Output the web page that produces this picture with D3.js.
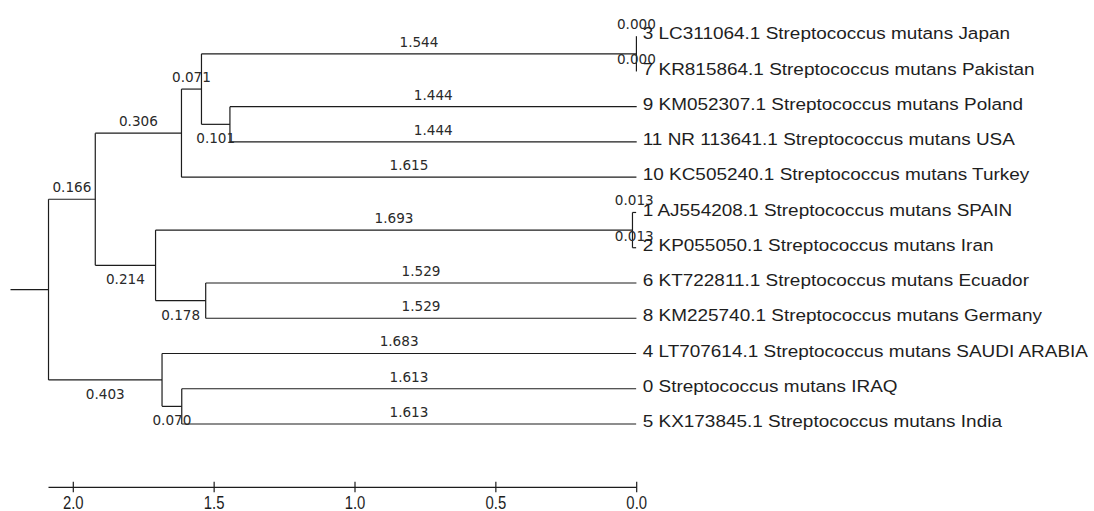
<!DOCTYPE html>
<html><head><meta charset="utf-8">
<script src="https://cdn.jsdelivr.net/npm/d3@7"></script>
<style>body{margin:0;background:#fff;overflow:hidden}</style>
</head><body>
<svg id="chart" width="1094" height="511"></svg>
<script>
// ---- data ----
const leafNames = [
  "3 LC311064.1 Streptococcus mutans Japan",
  "7 KR815864.1 Streptococcus mutans Pakistan",
  "9 KM052307.1 Streptococcus mutans Poland",
  "11 NR 113641.1 Streptococcus mutans USA",
  "10 KC505240.1 Streptococcus mutans Turkey",
  "1 AJ554208.1 Streptococcus mutans SPAIN",
  "2 KP055050.1 Streptococcus mutans Iran",
  "6 KT722811.1 Streptococcus mutans Ecuador",
  "8 KM225740.1 Streptococcus mutans Germany",
  "4 LT707614.1 Streptococcus mutans SAUDI ARABIA",
  "0 Streptococcus mutans IRAQ",
  "5 KX173845.1 Streptococcus mutans India"
];
const leafParents = ["n1","n1","n3","n3","n4","n6","n6","n7","n7","n10","n9","n9"];
const leafLengths = [0.000,0.000,1.444,1.444,1.615,0.013,0.013,1.529,1.529,1.683,1.613,1.613];
const nodeIds     = ["n1","n2","n3","n4","n5","n6","n7","n8","n9","n10","root"];
const nodeParents = ["n2","n4","n2","n5","root","n8","n8","n5","n10","root",""];
const nodeLengths = [1.544,0.071,0.101,0.306,0.166,1.693,0.178,0.214,0.070,0.403,0];
const axisTicks = [2.0,1.5,1.0,0.5,0.0];

// ---- build hierarchy ----
const table = [];
nodeIds.forEach((id,i)=>table.push({id, parent: nodeParents[i] || null, len: nodeLengths[i]}));
leafNames.forEach((n,i)=>table.push({id:n, parent: leafParents[i], len: leafLengths[i]}));
const root = d3.stratify().id(d=>d.id).parentId(d=>d.parent)(table);

root.eachBefore(d=>{ d.dist = d.parent ? d.parent.dist + d.data.len : 0; });
const rootH = d3.max(root.leaves(), d=>d.dist);

const svg = d3.select("#chart");
const x = d3.scaleLinear().domain([2,0]).range([73.3,636.7]);
const yLeaf = d3.scalePoint().domain(leafNames).range([36.2,424]);

root.eachAfter(d=>{
  d.px = x(rootH - d.dist);
  if (!d.children) d.py = yLeaf(d.id);
  else { const ys = d.children.map(c=>c.py); d.py = (d3.min(ys)+d3.max(ys))/2; }
});

const lineCol = "#1c1c1c";
const g = svg.append("g").attr("fill","none").attr("stroke",lineCol).attr("stroke-width",1.2);

// vertical connectors
g.selectAll("line.v").data(root.descendants().filter(d=>d.children)).join("line")
  .attr("x1",d=>d.px).attr("x2",d=>d.px)
  .attr("y1",d=>d3.min(d.children,c=>c.py)).attr("y2",d=>d3.max(d.children,c=>c.py));
// horizontal branches
g.selectAll("line.h").data(root.descendants().filter(d=>d.parent)).join("line")
  .attr("x1",d=>d.parent.px).attr("x2",d=>d.px)
  .attr("y1",d=>d.py).attr("y2",d=>d.py);
// root stub
g.append("line").attr("x1",root.px-38).attr("x2",root.px).attr("y1",root.py).attr("y2",root.py);

// branch length labels
const fmt = d3.format(".3f");
svg.append("g").attr("font-family","'DejaVu Sans', Verdana, sans-serif").attr("font-size",13.6)
  .attr("fill","#2a2a2a").attr("text-anchor","middle")
  .selectAll("text").data(root.descendants().filter(d=>d.parent)).join("text")
  .attr("x",d=>(d.parent.px+d.px)/2)
  .attr("y",d=>(!d.children || d.py < d.parent.py) ? d.py-7 : d.py+19)
  .text(d=>fmt(d.data.len));

// leaf labels
svg.append("g").selectAll("g").data(root.leaves()).join("g")
  .attr("transform",d=>`translate(${x(0)+6},${d.py+3.2}) scale(1.115,1)`)
  .append("text")
  .attr("font-family","'Liberation Sans', Arial, sans-serif").attr("font-size",17)
  .attr("fill","#1e1e1e")
  .text(d=>d.id);

// scale axis
const axY = 487.3;
const ax = svg.append("g").attr("stroke",lineCol).attr("stroke-width",1.2);
ax.append("line").attr("x1",x(rootH)).attr("x2",x(0)).attr("y1",axY).attr("y2",axY);
ax.selectAll("line.t").data(axisTicks).join("line")
  .attr("x1",d=>x(d)).attr("x2",d=>x(d)).attr("y1",axY-5.5).attr("y2",axY+5);
svg.append("g").selectAll("g").data(axisTicks).join("g")
  .attr("transform",d=>`translate(${x(d)},509) scale(0.85,1)`)
  .append("text").attr("text-anchor","middle")
  .attr("font-family","'Liberation Sans', Arial, sans-serif").attr("font-size",17.5)
  .attr("fill","#1e1e1e")
  .text(d=>d3.format(".1f")(d));
</script>
</body></html>
